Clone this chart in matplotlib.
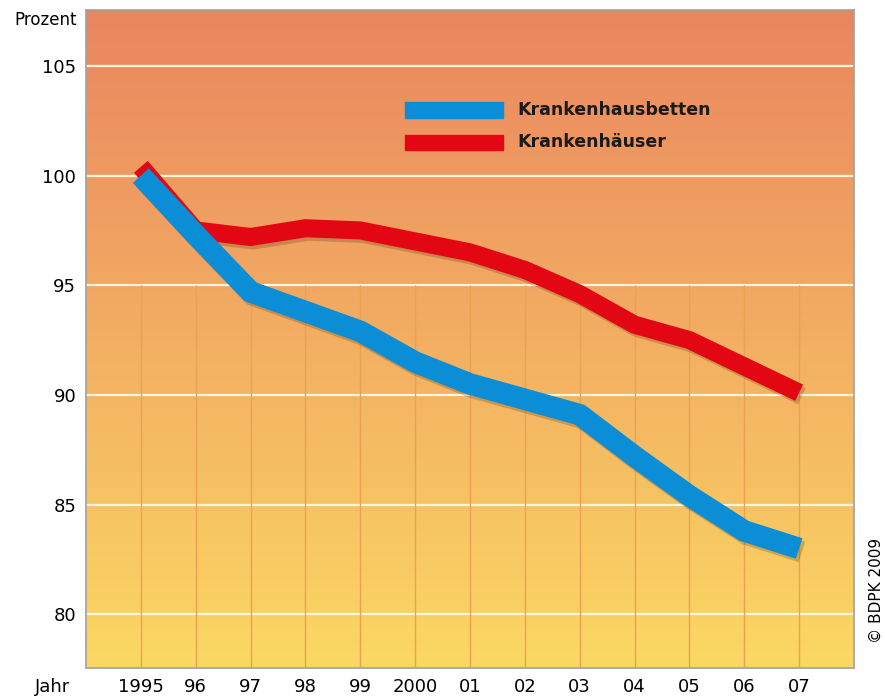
import numpy as np
import matplotlib
matplotlib.use("Agg")
from matplotlib import pyplot as plt
from matplotlib import patheffects as pe
from matplotlib.colors import LinearSegmentedColormap

years = [1995, 1996, 1997, 1998, 1999, 2000, 2001, 2002, 2003, 2004, 2005, 2006, 2007]
year_labels = ["1995", "96", "97", "98", "99", "2000", "01", "02", "03", "04", "05", "06", "07"]
betten = [100.0, 97.3, 94.7, 93.8, 92.9, 91.5, 90.5, 89.8, 89.1, 87.2, 85.4, 83.8, 83.0]
haeuser = [100.4, 97.5, 97.2, 97.6, 97.5, 97.0, 96.5, 95.7, 94.6, 93.2, 92.5, 91.3, 90.1]
yticks = [80, 85, 90, 95, 100, 105]

fig = plt.figure(figsize=(8.85, 6.99), dpi=100)
ax = fig.add_axes([86 / 885, 1 - 668 / 699, 768 / 885, 658 / 699])

x0, x1 = 1994.0, 2008.0
y0, y1 = 77.55, 107.55

# background gradient (top red-orange -> bottom yellow)
bg = LinearSegmentedColormap.from_list("bg", ["#FBD862", "#F3AE63", "#EA865F"])
grad = np.linspace(0, 1, 256).reshape(-1, 1)
ax.imshow(grad, cmap=bg, origin="lower", aspect="auto",
          extent=[x0, x1, y0, y1], zorder=0)

for y in yticks:
    ax.axhline(y, color="#FFF6E0", lw=1.6, zorder=1)
ax.vlines(years, y0, 95, color="#E9A152", lw=1.0, zorder=1)

shadow = [pe.SimpleLineShadow(offset=(2, -2.5), alpha=0.22, shadow_color="#4a2000"), pe.Normal()]
ax.plot(years, haeuser, color="#E30613", lw=13, solid_joinstyle="miter",
        solid_capstyle="butt", path_effects=shadow, zorder=3)
ax.plot(years, betten, color="#0B8ED6", lw=15.5, solid_joinstyle="miter",
        solid_capstyle="butt", path_effects=shadow, zorder=4)

ax.set_xlim(x0, x1)
ax.set_ylim(y0, y1)
ax.set_xticks(years)
ax.set_xticklabels(year_labels, fontsize=13)
ax.set_yticks(yticks)
ax.set_yticklabels([str(v) for v in yticks], fontsize=13)
ax.tick_params(length=0, pad=7)
ax.tick_params(axis="x", pad=7)
for s in ax.spines.values():
    s.set_color("#A0A0A0")
    s.set_linewidth(1.2)

# legend
fig.patches.append(plt.Rectangle((405 / 885, 1 - 118 / 699), 98 / 885, 16 / 699,
                                 transform=fig.transFigure, color="#0B8ED6", zorder=5))
fig.patches.append(plt.Rectangle((405 / 885, 1 - 150 / 699), 98 / 885, 15 / 699,
                                 transform=fig.transFigure, color="#E30613", zorder=5))
fig.text(517 / 885, 1 - 110 / 699, "Krankenhausbetten", fontsize=12.5, fontweight="bold",
         va="center", ha="left", color="#1a1a1a")
fig.text(517 / 885, 1 - 142 / 699, "Krankenhäuser", fontsize=12.5, fontweight="bold",
         va="center", ha="left", color="#1a1a1a")

fig.text(77 / 885, 1 - 20 / 699, "Prozent", fontsize=12, ha="right", va="center")
fig.text(70 / 885, 1 - 687 / 699, "Jahr", fontsize=13, ha="right", va="center")
fig.text(876 / 885, 1 - 590 / 699, "© BDPK 2009", fontsize=11, rotation=90,
         ha="center", va="center")

fig.savefig("out.png", dpi=100)
